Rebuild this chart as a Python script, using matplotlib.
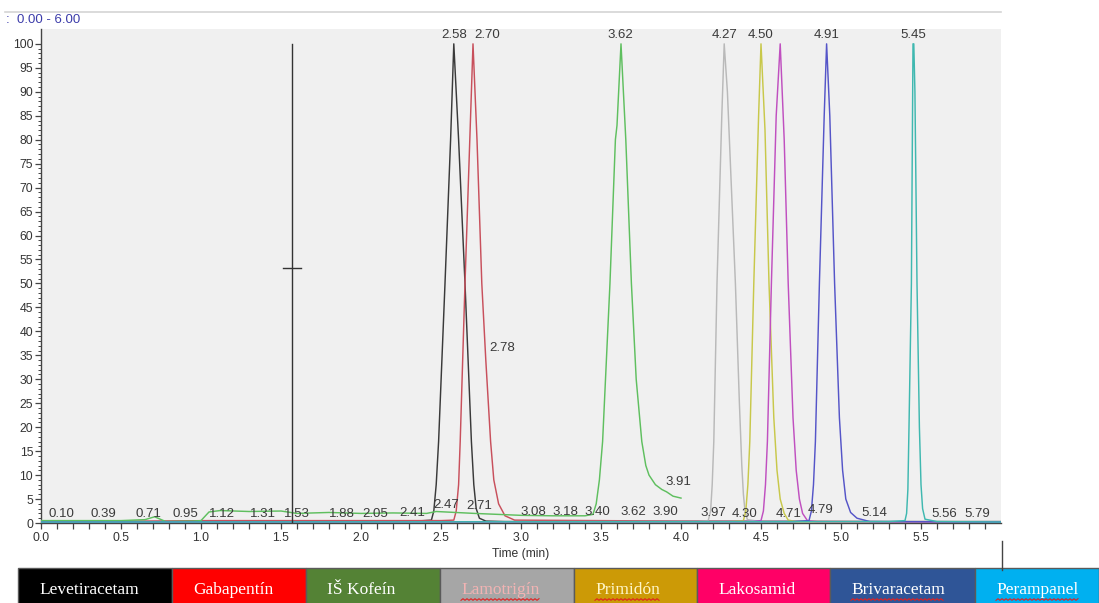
import matplotlib
matplotlib.use("Agg")
import matplotlib.pyplot as plt
from matplotlib.patches import Rectangle
from matplotlib.lines import Line2D
from matplotlib.ticker import FixedLocator
import numpy as np

# ---------------- data: time (min) vs. relative abundance (%) ----------------
lev_t = [0.0, 2.30, 2.44, 2.455, 2.47, 2.485, 2.525, 2.56, 2.58, 2.61, 2.65, 2.69, 2.705, 2.72, 2.74, 2.78, 2.90, 6.0]
lev_v = [0.3, 0.3, 0.6, 2.5, 8.0, 17, 50, 80, 100, 80, 50, 17, 8.0, 3.0, 1.0, 0.4, 0.3, 0.3]

gab_t = [0.0, 1.05, 2.50, 2.58, 2.595, 2.61, 2.62, 2.65, 2.68, 2.70, 2.725, 2.755, 2.78, 2.81, 2.83, 2.86, 2.90, 2.96, 4.0, 6.0]
gab_v = [0.2, 0.5, 0.5, 0.6, 2.5, 8.0, 17, 50, 80, 100, 80, 50, 34, 17, 9.0, 4.0, 1.5, 0.6, 0.4, 0.2]

kof_t = [0.0, 0.5, 0.65, 0.71, 0.78, 0.95, 1.0, 1.05, 1.12, 1.30, 1.50, 1.60, 1.80, 2.00, 2.20,
         2.41, 2.47, 2.71, 3.00, 3.20, 3.40, 3.45, 3.47, 3.49, 3.51, 3.556, 3.59, 3.60, 3.625,
         3.655, 3.69, 3.72, 3.755, 3.78, 3.80, 3.84, 3.88, 3.91, 3.95, 4.0]
kof_v = [0.5, 0.5, 0.7, 1.3, 0.3, 0.4, 0.5, 2.3, 2.6, 2.4, 2.5, 2.0, 2.2, 2.0, 2.1,
         2.0, 2.4, 2.0, 1.6, 1.5, 1.5, 1.8, 4.0, 9.0, 17, 50, 80, 83, 100,
         80, 50, 30, 17, 12, 10, 8.0, 7.0, 6.5, 5.6, 5.2]

lam_t = [0.0, 4.10, 4.17, 4.185, 4.195, 4.205, 4.225, 4.255, 4.27, 4.29, 4.315, 4.34, 4.365, 4.38, 4.39, 4.40, 4.415, 4.50, 6.0]
lam_v = [0.2, 0.3, 0.5, 2.5, 8.0, 17, 50, 85, 100, 90, 70, 50, 25, 12, 6.0, 2.5, 0.7, 0.3, 0.2]

pri_t = [0.0, 4.30, 4.39, 4.405, 4.418, 4.43, 4.455, 4.485, 4.50, 4.525, 4.55, 4.58, 4.60, 4.62, 4.645, 4.67, 4.72, 6.0]
pri_v = [0.2, 0.3, 0.5, 2.5, 8.0, 17, 50, 85, 100, 82, 50, 22, 11, 5.0, 2.0, 0.6, 0.3, 0.2]

lak_t = [0.0, 4.45, 4.50, 4.515, 4.528, 4.54, 4.565, 4.595, 4.62, 4.645, 4.67, 4.70, 4.72, 4.74, 4.76, 4.79, 4.85, 6.0]
lak_v = [0.2, 0.3, 0.5, 2.5, 8.0, 17, 50, 85, 100, 80, 50, 22, 11, 5.0, 2.0, 0.5, 0.3, 0.2]

bri_t = [0.0, 4.70, 4.80, 4.815, 4.828, 4.84, 4.865, 4.895, 4.91, 4.93, 4.96, 4.99, 5.01, 5.03, 5.06, 5.10, 5.18, 6.0]
bri_v = [0.2, 0.3, 0.5, 2.5, 8.0, 17, 50, 85, 100, 85, 50, 22, 11, 5.0, 2.2, 1.0, 0.3, 0.2]

per_t = [0.0, 5.30, 5.40, 5.41, 5.418, 5.425, 5.44, 5.448, 5.45, 5.455, 5.462, 5.475, 5.49, 5.50, 5.51, 5.525, 5.60, 6.0]
per_v = [0.2, 0.3, 0.5, 2.0, 7.0, 20, 50, 90, 100, 100, 90, 50, 20, 8.0, 3.0, 0.8, 0.3, 0.2]

# apex labels
peak_rt = [2.58, 2.70, 3.62, 4.27, 4.50, 4.91, 5.45]
peak_label_t = [2.58, 2.79, 3.62, 4.27, 4.50, 4.91, 5.45]

# labels of small baseline features: text, anchor time, anchor level
noise_text = ["0.10", "0.39", "0.71", "0.95", "1.12", "1.31", "1.53", "1.88", "2.05", "2.41",
              "2.47", "2.71", "3.08", "3.18", "3.40", "3.62", "3.90", "3.91", "2.78",
              "3.97", "4.30", "4.71", "4.79", "5.14", "5.56", "5.79"]
noise_t = [0.13, 0.39, 0.67, 0.90, 1.13, 1.39, 1.60, 1.88, 2.09, 2.32,
           2.53, 2.74, 3.075, 3.28, 3.48, 3.70, 3.90, 3.985, 2.885,
           4.20, 4.40, 4.67, 4.87, 5.21, 5.645, 5.85]
noise_v = [1.9, 1.9, 1.9, 1.9, 1.9, 1.9, 1.9, 1.9, 1.9, 2.0,
           3.7, 3.5, 2.4, 2.4, 2.4, 2.2, 2.4, 8.5, 36.6,
           2.0, 1.8, 1.8, 2.7, 2.0, 1.8, 1.8]

# cursor
cursor_t = 1.57
cursor_mark = 53.3

# compound legend
compounds = ["Levetiracetam", "Gabapentín", "IŠ Kofeín", "Lamotrigín",
             "Primidón", "Lakosamid", "Brivaracetam", "Perampanel"]
box_colors = ["#000000", "#ff0000", "#548235", "#a6a6a6",
              "#cc9a06", "#ff0066", "#2f5597", "#00b0f0"]
text_colors = ["white", "white", "white", "#f2b3b3",
               "#fff6c8", "white", "white", "white"]
spelled = [False, False, False, True, True, False, True, True]

# ---------------- figure ----------------
W, H = 1099, 603
fig = plt.figure(figsize=(W / 100, H / 100), dpi=100)
fig.patch.set_facecolor("white")

def fx(px):
    return px / W

def fy(py):
    return 1 - py / H

ax = fig.add_axes([fx(41), fy(523), fx(1001) - fx(41), fy(29) - fy(523)])
ax.set_facecolor("#f0f0f0")
ax.set_xlim(0, 6)
ax.set_ylim(0, 103.1)

traces = [
    (lev_t, lev_v, "#3a3a3a"),
    (gab_t, gab_v, "#c8505c"),
    (kof_t, kof_v, "#5fbf5f"),
    (lam_t, lam_v, "#b9b9b9"),
    (pri_t, pri_v, "#c8c84a"),
    (lak_t, lak_v, "#c050c0"),
    (bri_t, bri_v, "#5555c8"),
    (per_t, per_v, "#3fb8b0"),
]
for t, v, c in traces:
    ax.plot(t, v, color=c, lw=1.05, solid_joinstyle="round", zorder=3)

lab_font = dict(family="Liberation Sans", size=9.5, color="#3a3a3a")
for rt, lt in zip(peak_rt, peak_label_t):
    ax.text(lt, 101.9, f"{rt:.2f}", ha="center", va="center", zorder=5, **lab_font)
for s, t, v in zip(noise_text, noise_t, noise_v):
    ax.text(t, v, s, ha="center", va="center", zorder=5, **lab_font)

# cursor line
ax.plot([cursor_t, cursor_t], [0, 100], color="#333333", lw=1.0, zorder=4)
ax.plot([cursor_t - 0.055, cursor_t + 0.055], [cursor_mark, cursor_mark],
        color="#333333", lw=1.0, zorder=4)

# axes styling
for side in ["top", "right"]:
    ax.spines[side].set_visible(False)
for side in ["left", "bottom"]:
    ax.spines[side].set_color("#444444")
    ax.spines[side].set_linewidth(1.0)

ax.xaxis.set_major_locator(FixedLocator(np.arange(0, 5.51, 0.5)))
ax.xaxis.set_minor_locator(FixedLocator(np.arange(0, 5.95, 0.1)))
ax.set_xticklabels([f"{v:.1f}" for v in np.arange(0, 5.51, 0.5)])
ax.yaxis.set_major_locator(FixedLocator(np.arange(0, 101, 5)))
ax.yaxis.set_minor_locator(FixedLocator(np.arange(0, 101, 1)))
ax.set_yticklabels([f"{int(v)}" for v in np.arange(0, 101, 5)])

ax.tick_params(axis="x", which="both", direction="out", length=4.3, width=0.9,
               color="#444444", pad=2, labelsize=8.8, labelcolor="#333333")
ax.tick_params(axis="y", which="major", direction="out", length=4.1, width=0.9,
               color="#444444", pad=1.5, labelsize=8.8, labelcolor="#333333")
ax.tick_params(axis="y", which="minor", direction="out", length=2.0, width=0.7,
               color="#444444")
for lbl in ax.get_xticklabels() + ax.get_yticklabels():
    lbl.set_family("Liberation Sans")

ax.set_xlabel("Time (min)", family="Liberation Sans", fontsize=8.7,
              color="#333333", labelpad=3)

# header strip
fig.add_artist(Line2D([fx(5), fx(1001)], [fy(12), fy(12)], color="#d4d4d4", lw=1.2))
fig.text(fx(6), fy(20), ":", family="Liberation Sans", fontsize=9.5,
         color="#3c3caa", ha="left", va="center")
fig.text(fx(17), fy(20), "0.00 - 6.00", family="Liberation Sans", fontsize=9.5,
         color="#3c3caa", ha="left", va="center")

# small marker line at the right end of the time axis
fig.add_artist(Line2D([fx(1002), fx(1002)], [fy(541), fy(570)], color="#444444", lw=1.0))

# compound colour key
edges = [18, 172, 306, 440, 574, 697, 830, 975, 1099]
box_top, box_bot = 568, 606
texts = []
for i, name in enumerate(compounds):
    x0, x1 = edges[i], edges[i + 1]
    fig.add_artist(Rectangle((fx(x0), fy(box_bot)), fx(x1) - fx(x0), fy(box_top) - fy(box_bot),
                             facecolor=box_colors[i], edgecolor="#5a5a5a", lw=1.0))
    tx = fig.text(fx(x0 + 21), fy(590), name, family="Liberation Serif", fontsize=12.5,
                  color=text_colors[i], ha="left", va="center")
    texts.append(tx)

fig.canvas.draw()
renderer = fig.canvas.get_renderer()
for tx, sp in zip(texts, spelled):
    if not sp:
        continue
    bb = tx.get_window_extent(renderer)
    xs = np.arange(bb.x0, bb.x1, 2.0)
    ys = bb.y0 - 1.5 + 0.8 * ((np.arange(len(xs)) % 2) * 2 - 1)
    fig.add_artist(Line2D(xs / W, ys / H, color="#e02020", lw=0.8))

fig.savefig("out.png", dpi=100)
